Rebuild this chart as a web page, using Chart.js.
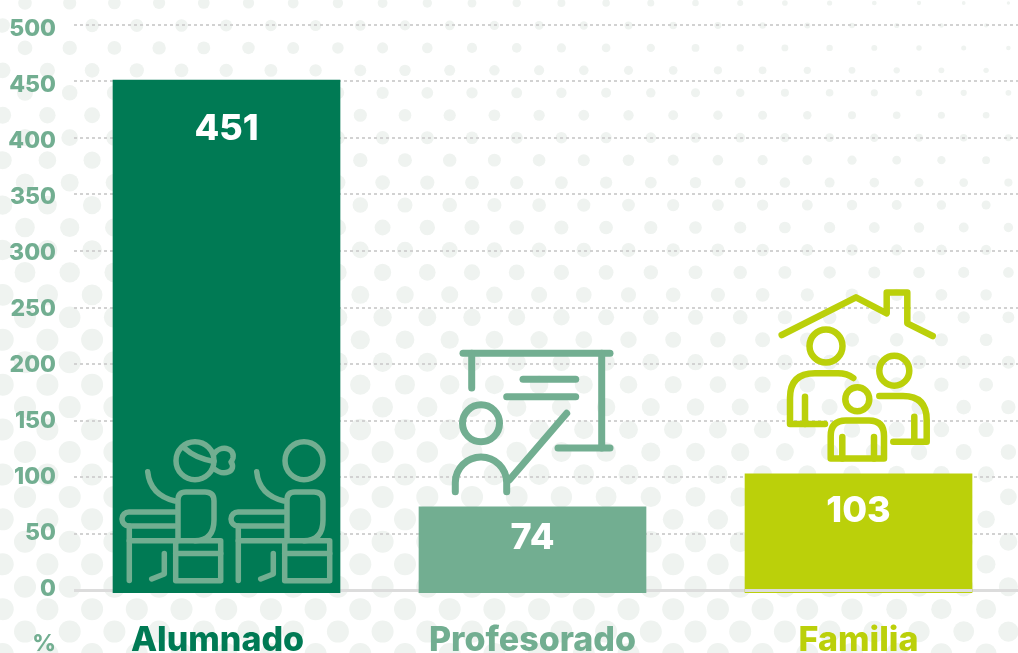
<!DOCTYPE html>
<html lang="es">
<head>
<meta charset="utf-8">
<title>Alumnado, Profesorado, Familia</title>
<script src="https://cdn.jsdelivr.net/npm/chart.js@4/dist/chart.umd.min.js"></script>
<style>
    html, body { margin: 0; padding: 0; background: #fff; overflow: hidden; width: 1018px; height: 653px; }
    canvas { display: block; }
</style>
</head>
<body>
<canvas id="grafico" width="1018" height="680"></canvas>
<script>
// Datos
var categories = ['Alumnado', 'Profesorado', 'Familia'];
var values = [451, 74, 103];
var tickValues = [0, 50, 100, 150, 200, 250, 300, 350, 400, 450, 500];
var unitLabel = '%';

// Colores y posicion de cada barra
var barColors = ['#007a54', '#72ae91', '#bbd00a'];
var labelColors = ['#007a54', '#72ae91', '#bbd00a'];
var barSlots = [1, 2, 3.0654];
var labelSlots = [0.9706, 2, 3.0654];
var valueOffsets = [49, 31, 37];

var FONT = 'Inter, "Open Sans", sans-serif';
var BOTTOM = 87;

// Fondo de puntos
var dotsPlugin = {
    id: 'dots',
    beforeDraw: function (chart) {
        var ctx = chart.ctx;
        ctx.save();
        ctx.fillStyle = '#eff3f0';
        for (var row = 0; row < 31; row++) {
            var y = 3 + row * 22.45;
            var startX = row % 2 === 0 ? 25 : 47.4;
            for (var x = startX - 44.7; x < 1040; x += 44.7) {
                var r = Math.min(11, 5 + 0.0135 * y - 0.0052 * (x - 360));
                ctx.beginPath();
                ctx.arc(x, y, r, 0, Math.PI * 2);
                ctx.fill();
            }
        }
        ctx.restore();
    }
};

function path(ctx, pts) {
    ctx.beginPath();
    ctx.moveTo(pts[0][0], pts[0][1]);
    for (var i = 1; i < pts.length; i++) ctx.lineTo(pts[i][0], pts[i][1]);
    ctx.stroke();
}

function circle(ctx, x, y, r) {
    ctx.beginPath();
    ctx.arc(x, y, r, 0, Math.PI * 2);
    ctx.stroke();
}

function drawStudent(ctx) {
    circle(ctx, 195, 460.7, 19);
    // brazo
    ctx.beginPath();
    ctx.moveTo(147.7, 471.7);
    ctx.quadraticCurveTo(150, 495, 175, 501);
    ctx.stroke();
    // cuerpo
    ctx.beginPath();
    ctx.moveTo(178, 540.7);
    ctx.lineTo(178, 500);
    ctx.quadraticCurveTo(178, 492, 186, 492);
    ctx.lineTo(205, 492);
    ctx.quadraticCurveTo(214, 492, 214, 501);
    ctx.lineTo(214, 520);
    ctx.quadraticCurveTo(214, 540.7, 195, 540.7);
    ctx.stroke();
    // asiento
    path(ctx, [[175.7, 540.7], [220.7, 540.7], [220.7, 580.7], [175.7, 580.7], [175.7, 540.7]]);
    path(ctx, [[175.7, 553.5], [220.7, 553.5]]);
    // mesa
    ctx.beginPath();
    ctx.moveTo(175, 512);
    ctx.lineTo(129, 512);
    ctx.arc(129, 519, 7, -Math.PI / 2, Math.PI / 2, true);
    ctx.lineTo(175, 526);
    ctx.stroke();
    path(ctx, [[129.3, 526], [129.3, 580.5]]);
    path(ctx, [[129.3, 540.7], [175, 540.7]]);
    // pierna
    path(ctx, [[164.3, 553.5], [164.3, 574], [151.7, 579]]);
}

function drawStudents(ctx) {
    drawStudent(ctx);
    // moño y banda del pelo
    ctx.beginPath();
    ctx.moveTo(185, 448.5);
    ctx.quadraticCurveTo(195, 458, 214, 461.5);
    ctx.stroke();
    ctx.beginPath();
    ctx.moveTo(214, 454);
    ctx.bezierCurveTo(220, 445, 235, 447, 233, 458);
    ctx.quadraticCurveTo(232, 461, 231, 462);
    ctx.bezierCurveTo(237, 470, 225, 478, 213, 468);
    ctx.stroke();
    ctx.save();
    ctx.translate(109, 0);
    drawStudent(ctx);
    ctx.restore();
}

function drawTeacher(ctx) {
    path(ctx, [[463, 353.3], [610, 353.3]]);
    path(ctx, [[471.7, 353.3], [471.7, 388]]);
    path(ctx, [[601.7, 353.3], [601.7, 448]]);
    path(ctx, [[558, 448], [610, 448]]);
    path(ctx, [[523, 379.3], [575.7, 379.3]]);
    path(ctx, [[506.7, 396.7], [575.7, 396.7]]);
    path(ctx, [[566.7, 413.3], [509.3, 480]]);
    circle(ctx, 481, 423.3, 18.5);
    ctx.beginPath();
    ctx.moveTo(455.3, 491.7);
    ctx.lineTo(455.3, 482.7);
    ctx.arc(481, 482.7, 25.7, Math.PI, 0);
    ctx.lineTo(506.7, 491.7);
    ctx.stroke();
}

function drawFamily(ctx) {
    // casa
    path(ctx, [[781.7, 335], [856, 297.3], [886.7, 313.3], [886.7, 292.5], [907.3, 292.5], [907.3, 323.3], [932.7, 336]]);
    // adulto
    circle(ctx, 826, 346, 16.5);
    ctx.beginPath();
    ctx.moveTo(853.3, 378);
    ctx.quadraticCurveTo(847, 373.3, 838, 373.3);
    ctx.lineTo(815, 373.3);
    ctx.quadraticCurveTo(790, 373.3, 790, 398);
    ctx.lineTo(790, 424);
    ctx.lineTo(825, 424);
    ctx.stroke();
    path(ctx, [[805, 396.7], [805, 424]]);
    // adulto derecha
    circle(ctx, 894.3, 370.7, 15);
    ctx.beginPath();
    ctx.moveTo(879.3, 396);
    ctx.lineTo(903, 396);
    ctx.quadraticCurveTo(926.7, 396, 926.7, 420);
    ctx.lineTo(926.7, 441.7);
    ctx.lineTo(893.3, 441.7);
    ctx.stroke();
    path(ctx, [[914.3, 416.7], [914.3, 441.7]]);
    // niño
    circle(ctx, 857.3, 399.3, 12);
    ctx.beginPath();
    ctx.moveTo(830.7, 456);
    ctx.lineTo(830.7, 436);
    ctx.quadraticCurveTo(830.7, 420.5, 846, 420.5);
    ctx.lineTo(869, 420.5);
    ctx.quadraticCurveTo(884, 420.5, 884, 436);
    ctx.lineTo(884, 456);
    ctx.lineTo(884, 458.5);
    ctx.lineTo(830.7, 458.5);
    ctx.closePath();
    ctx.stroke();
    path(ctx, [[842.3, 437], [842.3, 458.5]]);
    path(ctx, [[874, 437], [874, 458.5]]);
}

// Iconos, valores y linea base
var overlayPlugin = {
    id: 'overlay',
    afterDatasetsDraw: function (chart) {
        var ctx = chart.ctx;
        var bars = chart.getDatasetMeta(0).data;
        var zero = chart.scales.y.getPixelForValue(0);

        // la linea base queda encima de la barra Familia
        ctx.save();
        ctx.fillStyle = '#dcdcdc';
        ctx.fillRect(bars[2].x - bars[2].width / 2, zero - 1.5, bars[2].width, 3);
        ctx.restore();

        ctx.save();
        ctx.lineCap = 'round';
        ctx.lineJoin = 'round';
        ctx.strokeStyle = '#72ae91';
        ctx.lineWidth = 5.5;
        drawStudents(ctx);
        ctx.lineWidth = 7;
        drawTeacher(ctx);
        ctx.strokeStyle = '#bbd00a';
        ctx.lineWidth = 6.5;
        drawFamily(ctx);
        ctx.restore();

        ctx.save();
        ctx.fillStyle = '#fff';
        ctx.font = '800 36px ' + FONT;
        ctx.textAlign = 'center';
        ctx.textBaseline = 'middle';
        bars.forEach(function (bar, i) {
            ctx.fillText(values[i], bar.x, bar.y + valueOffsets[i]);
        });
        ctx.fillStyle = '#72ae91';
        ctx.font = '800 23px ' + FONT;
        ctx.textAlign = 'right';
        ctx.fillText(unitLabel, 56, 644);
        ctx.restore();
    }
};

var ctx = document.getElementById('grafico').getContext('2d');
var chart = new Chart(ctx, {
    type: 'bar',
    data: {
        datasets: [{
            data: values.map(function (v, i) { return { x: barSlots[i], y: v }; }),
            backgroundColor: barColors,
            barThickness: 227,
            base: -2.2,
            borderWidth: 0
        }]
    },
    options: {
        responsive: false,
        animation: false,
        layout: { padding: { top: 24.5, left: 0, right: 0, bottom: 0 } },
        plugins: { legend: { display: false }, tooltip: { enabled: false } },
        scales: {
            x: {
                type: 'linear',
                offset: false,
                min: 0.5016,
                max: 3.5866,
                grid: { display: false, offset: false, drawTicks: false },
                border: { display: false },
                afterBuildTicks: function (scale) {
                    scale.ticks = labelSlots.map(function (v) { return { value: v }; });
                },
                afterFit: function (scale) { scale.height = BOTTOM; },
                ticks: {
                    autoSkip: false,
                    maxRotation: 0,
                    padding: 27,
                    font: { family: FONT, size: 34, weight: '800' },
                    color: function (c) { return labelColors[c.index]; },
                    callback: function (v, i) { return categories[i]; }
                }
            },
            y: {
                position: 'left',
                min: -2.2,
                max: 500,
                afterBuildTicks: function (scale) {
                    scale.ticks = tickValues.map(function (v) { return { value: v }; });
                },
                afterFit: function (scale) { scale.width = 0; },
                ticks: { display: false },
                border: {
                    display: false,
                    dash: function (c) { return c.tick && c.tick.value === 0 ? [] : [3, 3]; }
                },
                grid: {
                    drawTicks: false,
                    color: function (c) { return c.tick.value === 0 ? '#dcdcdc' : '#d2d2d2'; },
                    lineWidth: function (c) { return c.tick.value === 0 ? 3 : 2; }
                }
            },
            // eje solo para las etiquetas, que en el original no coinciden con las lineas
            yLabels: {
                position: 'left',
                min: -3.57,
                max: 504,
                afterBuildTicks: function (scale) {
                    scale.ticks = tickValues.map(function (v) { return { value: v }; });
                },
                afterFit: function (scale) {
                    scale.width = 74;
                    // sin esto el padding de las etiquetas empuja el area del grafico hacia abajo
                    scale.paddingTop = 0;
                    scale.paddingBottom = 0;
                },
                grid: { display: false, drawTicks: false },
                border: { display: false },
                ticks: {
                    padding: 18,
                    autoSkip: false,
                    crossAlign: 'near',
                    color: '#72ae91',
                    font: { family: FONT, size: 23, weight: '800' }
                }
            }
        }
    },
    plugins: [dotsPlugin, overlayPlugin]
});
</script>
</body>
</html>
